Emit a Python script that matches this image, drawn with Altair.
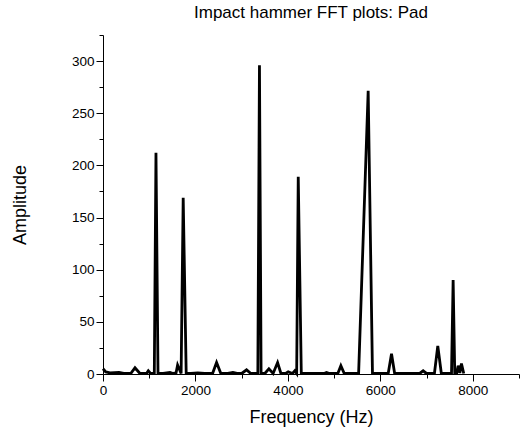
import altair as alt
import pandas as pd

freq_hz = [0, 60, 150, 346, 450, 600, 692, 800, 940, 980, 1030, 1110, 1146, 1190, 1300,
           1449, 1520, 1580, 1614, 1690, 1735, 1800, 1900, 2050, 2200, 2370, 2457, 2550,
           2700, 2811, 2900, 3000, 3106, 3200, 3350, 3385, 3420, 3500, 3589, 3680, 3777,
           3850, 3950, 4007, 4100, 4150, 4190, 4224, 4290, 4400, 4600, 4780, 4836, 4900,
           5080, 5146, 5220, 5530, 5737, 5830, 6000, 6170, 6242, 6310, 6500, 6850, 6926,
           7000, 7170, 7243, 7320, 7500, 7540, 7575, 7610, 7650, 7683, 7720, 7755, 7805]
amplitude = [5, 2, 1, 1.5, 0.5, 0.5, 6, 0.5, 0.5, 3, 0.5, 0.5, 212, 0.5, 0.5,
             1.5, 0.5, 1, 8.6, 0.5, 169, 0.5, 0.5, 1, 0.5, 0.5, 11, 0.5,
             0.5, 1.5, 0.5, 0.5, 4, 0.5, 0.5, 296, 0.5, 0.5, 5, 0.5, 11,
             0.5, 0.5, 2, 0.5, 3, 0.5, 189, 0.5, 0.5, 0.5, 0.5, 1.5, 0.5,
             0.5, 8, 0.5, 0.5, 271.5, 0.5, 0.5, 0.5, 19.5, 0.5, 0.5, 0.5, 3,
             0.5, 0.5, 27, 0.5, 0.5, 0.5, 90, 0.5, 0.5, 8, 1, 10, 0.5]

x_ticks = [0, 1000, 2000, 3000, 4000, 5000, 6000, 7000, 8000, 9000]
y_ticks = [0, 25, 50, 75, 100, 125, 150, 175, 200, 225, 250, 275, 300, 325]

df = pd.DataFrame({"freq": freq_hz, "amp": amplitude})

FONT = "Liberation Sans"

chart = alt.Chart(df).mark_line(color="black", strokeWidth=2.8, strokeJoin="miter").encode(
    x=alt.X("freq:Q", scale=alt.Scale(domain=[0, 9000], nice=False, zero=False),
            axis=alt.Axis(title="Frequency (Hz)", values=x_ticks, format="d",
                          labelExpr="datum.value % 2000 === 0 ? datum.label : ''",
                          tickSize={"condition": {"test": "datum.value % 2000 !== 0", "value": 4}, "value": 7},
                          labelFlush=False, labelPadding=2, titlePadding=12, grid=False)),
    y=alt.Y("amp:Q", scale=alt.Scale(domain=[0, 325], nice=False),
            axis=alt.Axis(title="Amplitude", values=y_ticks, format="d",
                          labelExpr="datum.value % 50 === 0 ? datum.label : ''",
                          tickSize={"condition": {"test": "datum.value % 50 !== 0", "value": 4}, "value": 7},
                          labelFlush=False, labelPadding=2, titlePadding=42, grid=False)),
).properties(
    width=416, height=339,
    title=alt.TitleParams("Impact hammer FFT plots: Pad", fontSize=17, font=FONT,
                          fontWeight="normal", anchor="middle", offset=13, color="black"),
    autosize=alt.AutoSizeParams(type="none"),
    padding={"left": 103, "top": 35, "right": 4, "bottom": 58},
).configure_view(stroke=None).configure_axis(
    labelFont=FONT, labelFontSize=13.5, labelColor="black",
    titleFont=FONT, titleFontSize=18, titleFontWeight="normal", titleColor="black",
    domainColor="black", tickColor="black", domainWidth=1, tickWidth=1,
)

chart.save("out.html", embed_options={"renderer": "svg", "actions": False})
